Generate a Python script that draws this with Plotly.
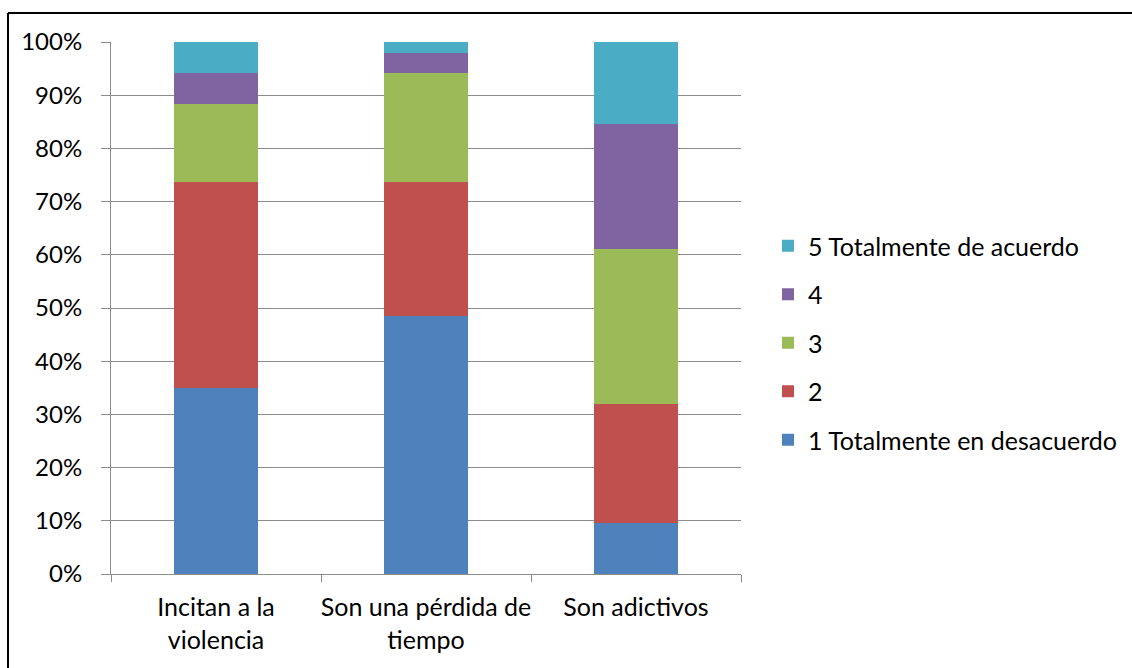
import plotly.graph_objects as go

# Survey statements (x categories); labels break across two lines
categories = ["Incitan a la<br>violencia", "Son una pérdida de<br>tiempo", "Son adictivos"]

# Share of responses per agreement level (percent)
level_names = ["1 Totalmente en desacuerdo", "2", "3", "4", "5 Totalmente de acuerdo"]
level_1 = [34.9, 48.5, 9.6]
level_2 = [38.8, 25.2, 22.4]
level_3 = [14.6, 20.5, 29.1]
level_4 = [5.8, 3.8, 23.4]
level_5 = [5.9, 2.0, 15.5]

colors = ["#4F81BD", "#C0504D", "#9BBB59", "#8064A2", "#4BACC6"]

fig = go.Figure()
series = [level_1, level_2, level_3, level_4, level_5]
for i, (name, vals, col) in enumerate(zip(level_names, series, colors)):
    fig.add_trace(go.Bar(
        x=categories, y=vals, name=name,
        marker=dict(color=col, line=dict(width=0)),
        legendgroup=name,
        legendrank=1000 - i,  # top level listed first
    ))

FONT = "Lato, Carlito, Calibri, sans-serif"
GRID = "#8C8C8C"

# Plot area geometry in pixels, used for the outer frame
L, R, T, B = 111, 391, 42, 94
W, H = 1132, 668
pw, ph = W - L - R, H - T - B

def px_x(x):
    return (x - L) / pw

def px_y(y):
    return (H - B - y) / ph

fig.update_layout(
    width=W, height=H,
    barmode="stack", bargap=0.6,
    margin=dict(l=L, r=R, t=T, b=B, pad=0, autoexpand=False),
    paper_bgcolor="white", plot_bgcolor="white",
    font=dict(family=FONT, size=25, color="#000000"),
    legend=dict(
        x=px_x(768), xanchor="left", y=px_y(343), yanchor="middle",
        traceorder="grouped", tracegroupgap=13,
        font=dict(family=FONT, size=25, color="#000000"),
        bgcolor="rgba(0,0,0,0)", borderwidth=0,
    ),
    xaxis=dict(
        range=[-0.5, 2.5], showgrid=False, automargin=False,
        showline=True, linecolor=GRID, linewidth=1,
        ticks="outside", tickson="boundaries", ticklen=7, tickcolor=GRID,
        tickangle=0, ticklabelstandoff=11,
        tickfont=dict(family=FONT, size=25, color="#000000"),
    ),
    yaxis=dict(
        range=[0, 100], dtick=10, ticksuffix="%", automargin=False,
        showgrid=True, gridcolor=GRID, gridwidth=1,
        showline=True, linecolor=GRID, linewidth=1,
        ticks="outside", ticklen=9, tickcolor=GRID,
        ticklabelstandoff=14,
        tickfont=dict(family=FONT, size=24, color="#000000"),
        zeroline=False,
    ),
    shapes=[
        dict(type="line", xref="paper", yref="paper",
             x0=px_x(8), x1=px_x(W + 5), y0=px_y(13), y1=px_y(13),
             line=dict(color="#000000", width=2)),
        dict(type="line", xref="paper", yref="paper",
             x0=px_x(8), x1=px_x(8), y0=px_y(13), y1=px_y(H + 5),
             line=dict(color="#000000", width=2)),
    ],
)

fig.write_html("out.html")
